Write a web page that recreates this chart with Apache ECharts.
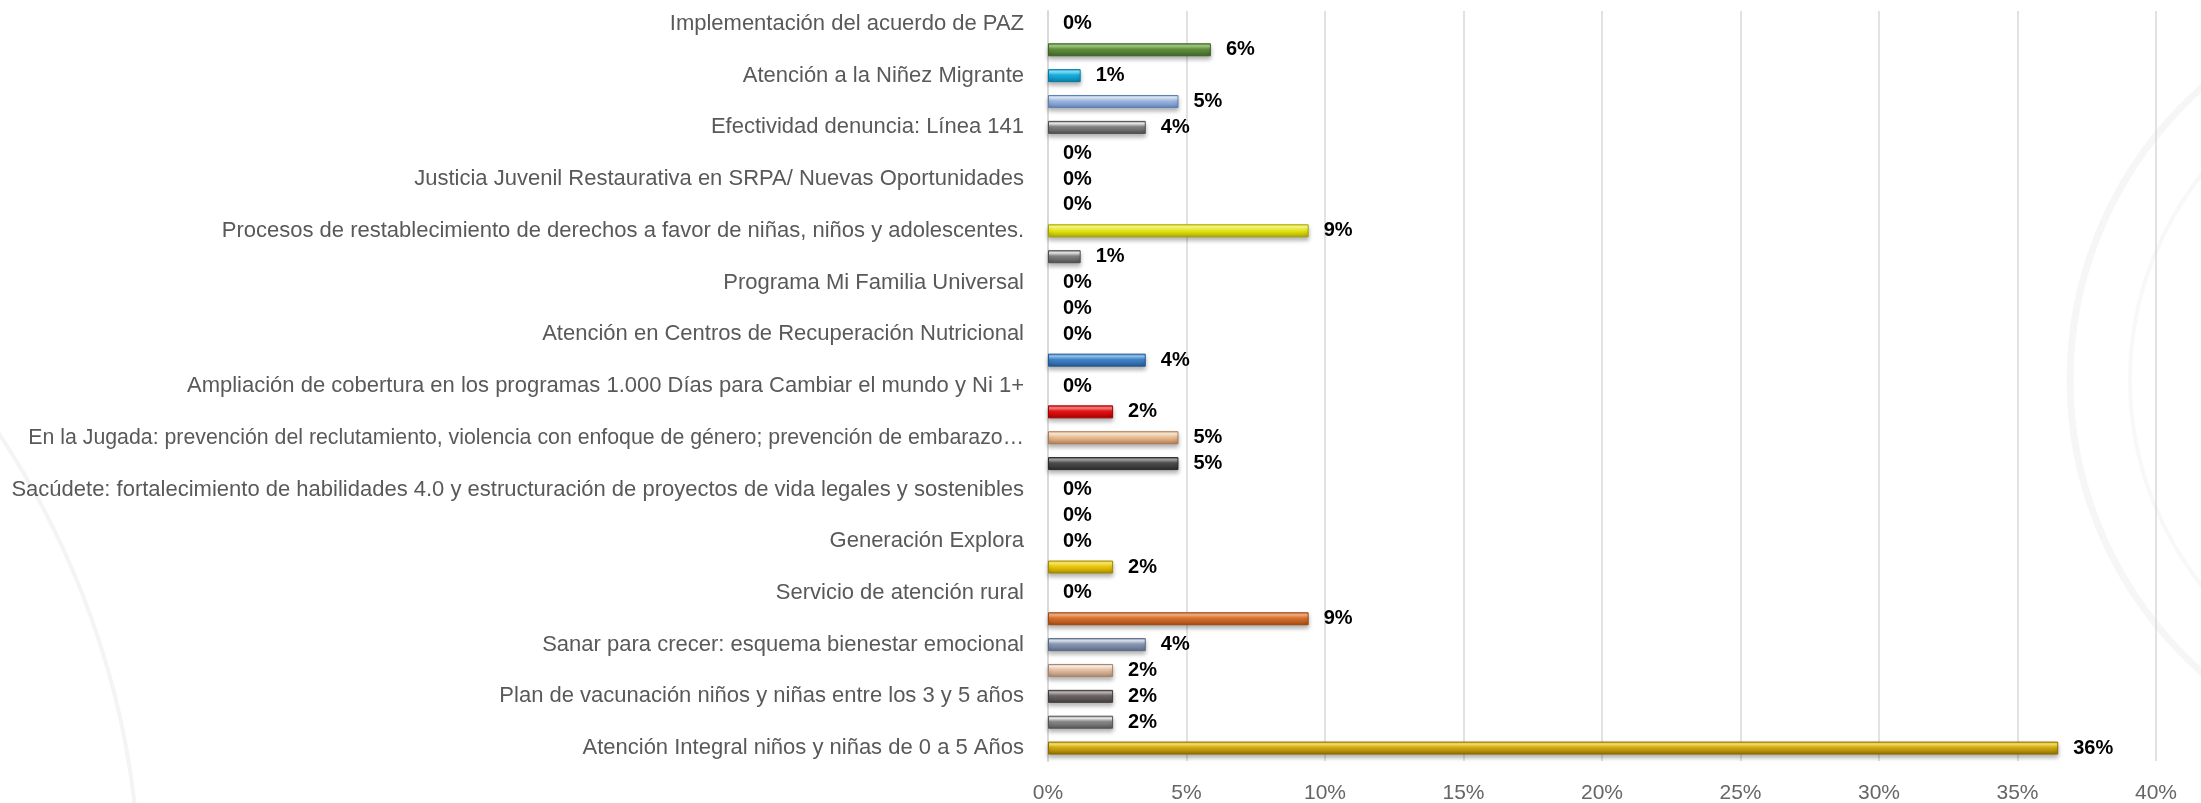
<!DOCTYPE html>
<html>
<head>
<meta charset="utf-8">
<script src="https://cdn.jsdelivr.net/npm/echarts@6/dist/echarts.min.js"></script>
<style>
  html, body { margin: 0; padding: 0; background: #fff; }
  #chart { width: 2201px; height: 803px; }
</style>
</head>
<body>
<div id="chart"></div>
<script>
// categories, top to bottom (only every other one is labelled in the original)
const categories = [
  'Implementación del acuerdo de PAZ', ' ',
  'Atención a la Niñez Migrante', '  ',
  'Efectividad denuncia: Línea 141', '   ',
  'Justicia Juvenil Restaurativa en SRPA/ Nuevas Oportunidades', '    ',
  'Procesos de restablecimiento de derechos a favor de niñas, niños y adolescentes.', '     ',
  'Programa Mi Familia Universal', '      ',
  'Atención en Centros de Recuperación Nutricional', '       ',
  'Ampliación de cobertura en los programas 1.000 Días para Cambiar el mundo y Ni 1+', '        ',
  'En la Jugada: prevención del reclutamiento, violencia con enfoque de género; prevención de embarazo…', '         ',
  'Sacúdete: fortalecimiento de habilidades 4.0 y estructuración de proyectos de vida legales y sostenibles', '          ',
  'Generación Explora', '           ',
  'Servicio de atención rural', '            ',
  'Sanar para crecer: esquema bienestar emocional', '             ',
  'Plan de vacunación niños y niñas entre los 3 y 5 años', '              ',
  'Atención Integral niños y niñas de 0 a 5 Años'
]

// percent values
const values = [
  0, 5.88,
  1.18, 4.71,
  3.53, 0,
  0, 0,
  9.41, 1.18,
  0, 0,
  0, 3.53,
  0, 2.35,
  4.71, 4.71,
  0, 0,
  0, 2.35,
  0, 9.41,
  3.53, 2.35,
  2.35, 2.35,
  36.47
]

const xTicks = { min: 0, max: 40, interval: 5 }

// bar colours: [light, base, dark]
const barColors = [
  null, ['#a9d48a', '#62923f', '#3e6325'],
  ['#8ce8ff', '#17b4e6', '#0a7aa3'], ['#e6efff', '#a3bde6', '#5f7fb5'],
  ['#f2f2f2', '#858585', '#4e4e4e'], null,
  null, null,
  ['#ffff9a', '#f0f018', '#a3a300'], ['#f2f2f2', '#858585', '#4e4e4e'],
  null, null,
  null, ['#9ccaf5', '#4288cf', '#24578f'],
  null, ['#ff8c8c', '#ea1414', '#a00000'],
  ['#fff3e0', '#f4c497', '#ad7a52'], ['#a8a8a8', '#4f4f4f', '#2a2a2a'],
  null, null,
  null, ['#fff27a', '#f3cf08', '#a38800'],
  null, ['#fbb789', '#df7430', '#9c4a10'],
  ['#e3ecf8', '#8c9db8', '#5b6a83'], ['#fff6ee', '#efc6a8', '#a6846c'],
  ['#c2baba', '#6f6868', '#423d3d'], ['#f7f7f7', '#8d8d8d', '#545454'],
  ['#ffe96a', '#d9b012', '#8c6d00']
]

const seriesData = values.map((v, i) => {
  const c = barColors[i] || ['#ffffff', '#ffffff', '#ffffff']
  return {
    value: v,
    itemStyle: {
      color: new echarts.graphic.LinearGradient(0, 0, 0, 1, [
        { offset: 0, color: c[1] },
        { offset: 0.2, color: c[0] },
        { offset: 0.45, color: c[1] },
        { offset: 1, color: c[2] }
      ]),
      borderColor: c[2],
      borderWidth: v > 0 ? 1 : 0
    }
  }
})

// the truncated "En la Jugada" label is drawn a touch smaller so it fits
const yData = categories.map(name =>
  name.startsWith('En la Jugada') ? { value: name, textStyle: { fontSize: 21.3 } } : name
)

const chart = echarts.init(document.getElementById('chart'), null, { renderer: 'canvas' })

const option = {
  backgroundColor: '#ffffff',
  animation: false,
  graphic: [
    { type: 'circle', silent: true, z: -10, shape: { cx: -700, cy: 900, r: 840 },
      style: { fill: 'none', stroke: '#f4f4f4', lineWidth: 4 } },
    { type: 'circle', silent: true, z: -10, shape: { cx: 2460, cy: 380, r: 390 },
      style: { fill: 'none', stroke: '#f6f6f6', lineWidth: 7 } },
    { type: 'circle', silent: true, z: -10, shape: { cx: 2460, cy: 380, r: 330 },
      style: { fill: 'none', stroke: '#f8f8f8', lineWidth: 4 } }
  ],
  grid: {
    left: 1048,
    right: 45,
    top: 11,
    bottom: 42,
    containLabel: false,
    outerBoundsMode: 'none'
  },
  xAxis: {
    type: 'value',
    min: xTicks.min,
    max: xTicks.max,
    interval: xTicks.interval,
    axisLine: { show: false },
    axisTick: { show: false },
    splitLine: { lineStyle: { color: '#d9d9d9', width: 1.5 } },
    axisLabel: {
      formatter: '{value}%',
      color: '#666666',
      fontSize: 21,
      fontFamily: 'Liberation Sans',
      margin: 22
    }
  },
  yAxis: {
    type: 'category',
    inverse: true,
    data: yData,
    axisTick: { show: false },
    axisLine: { show: true, lineStyle: { color: '#d9d9d9', width: 2 } },
    axisLabel: {
      interval: 1,
      color: '#595959',
      fontSize: 22,
      fontFamily: 'Liberation Sans',
      margin: 24
    }
  },
  series: [
    {
      type: 'bar',
      data: seriesData,
      barWidth: 13,
      itemStyle: {
        shadowColor: 'rgba(0,0,0,0.3)',
        shadowBlur: 4,
        shadowOffsetY: 3
      },
      label: {
        show: true,
        position: 'right',
        distance: 15,
        formatter: p => Math.round(p.value) + '%',
        color: '#000',
        fontWeight: 'bold',
        fontSize: 20,
        fontFamily: 'Liberation Sans'
      }
    }
  ]
}

chart.setOption(option)
</script>
</body>
</html>
